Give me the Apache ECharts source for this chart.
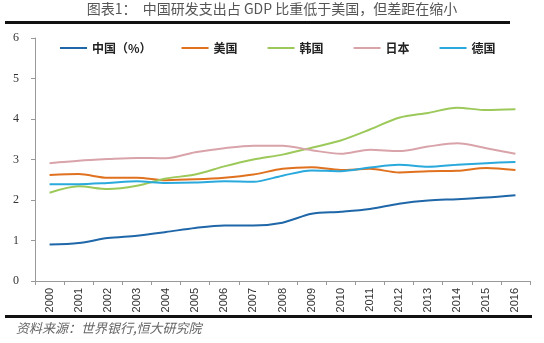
<!DOCTYPE html>
<html><head><meta charset="utf-8">
<script src="https://cdn.jsdelivr.net/npm/echarts@6/dist/echarts.min.js"></script>
<style>html,body{margin:0;padding:0;background:#fff}#c{width:544px;height:343px}</style>
</head><body><div id="c"></div>
<script>
const years = ['2000','2001','2002','2003','2004','2005','2006','2007','2008','2009','2010','2011','2012','2013','2014','2015','2016'];
const china   = [0.90,0.94,1.06,1.12,1.21,1.31,1.37,1.37,1.44,1.66,1.71,1.78,1.91,1.99,2.02,2.06,2.12];
const usa     = [2.62,2.64,2.55,2.55,2.49,2.51,2.55,2.63,2.77,2.81,2.74,2.77,2.68,2.71,2.72,2.79,2.74];
const korea   = [2.18,2.34,2.27,2.35,2.53,2.63,2.83,3.00,3.12,3.29,3.47,3.74,4.03,4.15,4.28,4.22,4.24];
const japan   = [2.91,2.97,3.01,3.04,3.03,3.18,3.28,3.34,3.34,3.23,3.14,3.24,3.21,3.32,3.40,3.28,3.14];
const germany = [2.39,2.39,2.42,2.46,2.42,2.43,2.46,2.45,2.60,2.73,2.71,2.80,2.87,2.82,2.87,2.91,2.94];
const yTicks = [0,1,2,3,4,5,6];
const names = ['中国（%）','美国','韩国','日本','德国'];
const colors = ['#1f67a8','#e0711f','#9cc95a','#d9a3aa','#2aa9dc'];
const seriesData = [china, usa, korea, japan, germany];

const chart = echarts.init(document.getElementById('c'));
chart.setOption({
  animation:false,
  title:{
    text:'图表1：  中国研发支出占 GDP 比重低于美国，但差距在缩小',
    left:'center', top:0, padding:[2,5,2,5],
    textStyle:{fontFamily:'Noto Sans CJK SC',fontSize:14,fontWeight:'normal',color:'#555'}
  },
  legend:{
    left:55, top:37, itemWidth:27, itemHeight:2, itemGap:30,
    icon:'rect',
    textStyle:{fontFamily:'Noto Sans CJK SC',fontSize:12,fontWeight:'bold',color:'#222'},
    data:names
  },
  grid:{left:35,right:14,top:38,bottom:62},
  xAxis:{
    type:'category', data:years, boundaryGap:true,
    axisLine:{lineStyle:{color:'#999'}},
    axisTick:{show:true,length:4,lineStyle:{color:'#999'}},
    axisLabel:{rotate:90,fontFamily:'Liberation Sans',fontSize:11,color:'#333',margin:7}
  },
  yAxis:{
    type:'value', min:yTicks[0], max:yTicks[yTicks.length-1], interval:1,
    axisLine:{show:true,lineStyle:{color:'#999'}},
    axisTick:{show:true,length:4,lineStyle:{color:'#999'}},
    splitLine:{show:false},
    axisLabel:{fontFamily:'Liberation Serif',fontSize:12,color:'#333',margin:16}
  },
  series: names.map((n,i)=>({
    name:n, type:'line', smooth:0.3, symbol:'none', data:seriesData[i],
    lineStyle:{width:2,color:colors[i]}, itemStyle:{color:colors[i]}
  })),
  graphic:[
    {type:'rect',shape:{x:5,y:21,width:505,height:3},style:{fill:'#111'}},
    {type:'rect',shape:{x:5,y:315,width:527,height:3},style:{fill:'#111'}},
    {type:'text',left:16,top:322,style:{text:'资料来源：世界银行,恒大研究院',font:'italic 13px "Noto Sans CJK SC"',fill:'#666'}}
  ]
});
</script></body></html>
